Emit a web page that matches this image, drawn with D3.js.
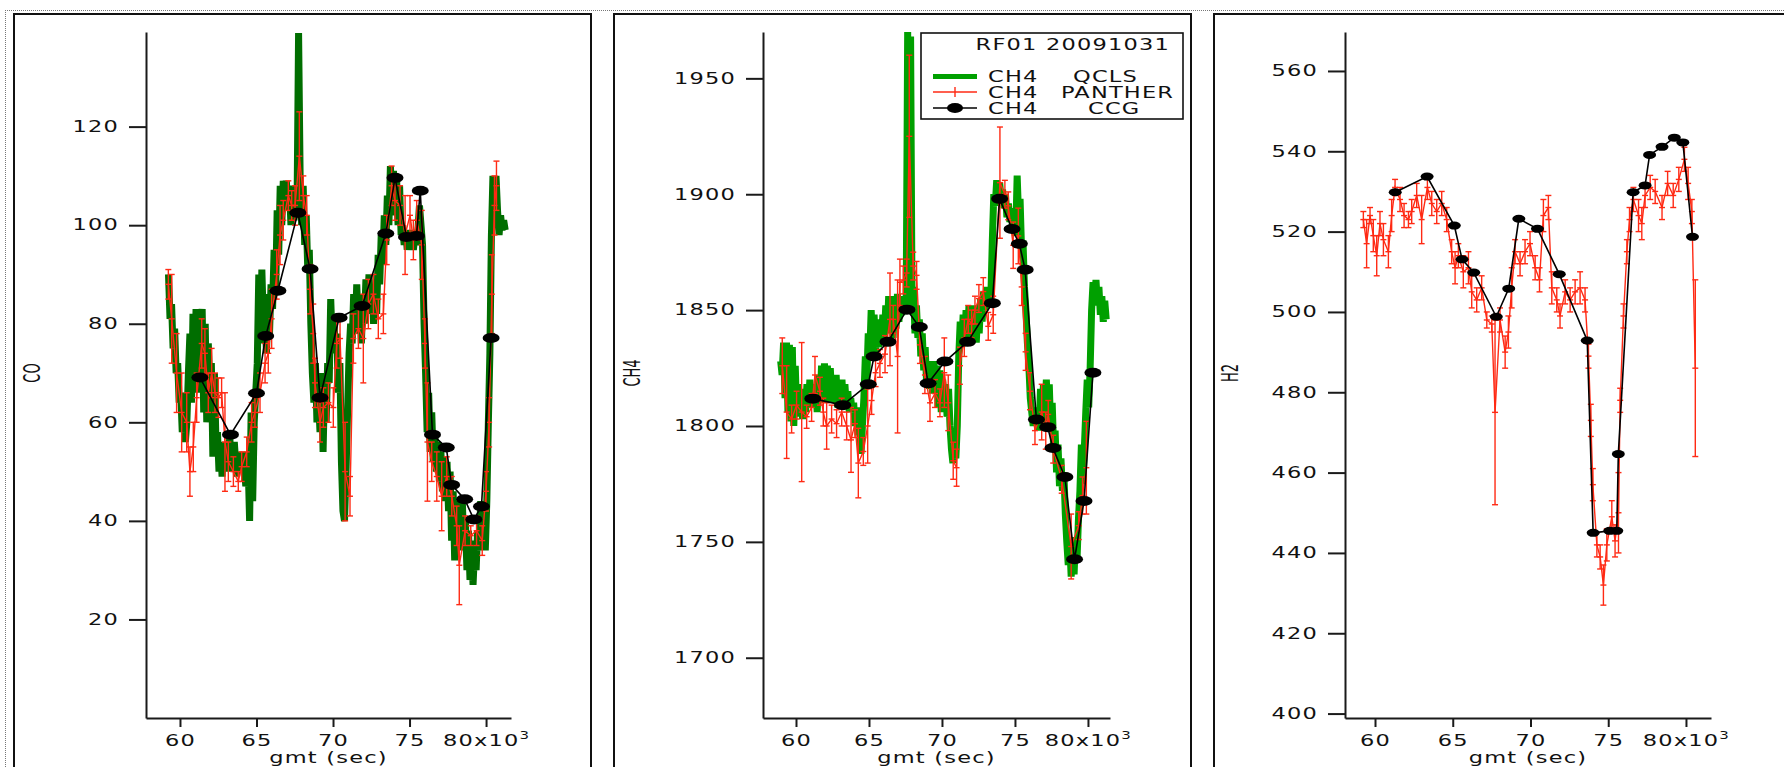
<!DOCTYPE html>
<meta charset="utf-8">
<style>
  body { margin: 0; background: #fff; }
  svg text { font-family: "DejaVu Sans", sans-serif; font-size: 15px; fill: #111; letter-spacing: 0.8px; }
  svg text.name { font-size: 13px; letter-spacing: 0; }
</style>
<script src="https://d3js.org/d3.v7.min.js"></script>
<div id="chart"></div>
<script>

// ---- data (time in thousands of seconds gmt) ----
var xTicks = [60, 65, 70, 75, 80];
var coTicks = [20, 40, 60, 80, 100, 120];
var ch4Ticks = [1700, 1750, 1800, 1850, 1900, 1950];
var h2Ticks = [400, 420, 440, 460, 480, 500, 520, 540, 560];

var legendTitle = "RF01 20091031";
var legendSpecies = ["CH4", "CH4", "CH4"];
var legendSources = ["QCLS", "PANTHER", "CCG"];

// QCLS CO [t, ppb]
var coQcls = [
[59.25,90],[59.35,81],[59.45,84],[59.55,75],[59.65,79],[59.75,70],[59.85,72],[59.95,64],[60.05,66],[60.15,58],[60.25,62],[60.35,56],[60.45,60],[60.55,70],[60.65,78],[60.75,64],[60.85,82],[60.95,70],[61.05,83],[61.15,66],[61.25,82],[61.35,72],[61.45,83],[61.55,62],[61.65,80],[61.75,60],[61.85,76],[61.95,68],[62.05,72],[62.15,53],[62.25,70],[62.35,56],[62.45,58],[62.55,50],[62.65,56],[62.75,49],[62.85,55],[62.95,50],[63.05,56],[63.15,52],[63.25,57],[63.4,50],[63.55,56],[63.7,49],[63.85,54],[64.0,50],[64.15,54],[64.3,47],[64.45,52],[64.55,40],[64.65,62],[64.75,44],[64.85,60],[64.95,66],[65.05,72],[65.15,90],[65.25,76],[65.35,91],[65.45,80],[65.55,86],[65.65,74],[65.75,84],[65.85,78],[65.95,88],[66.05,83],[66.15,95],[66.25,86],[66.35,103],[66.45,94],[66.55,108],[66.65,100],[66.75,109],[66.85,104],[66.95,109],[67.05,103],[67.15,108],[67.25,100],[67.35,106],[67.45,101],[67.55,108],[67.65,104],[67.75,139],[67.85,110],[67.95,100],[68.05,108],[68.15,96],[68.25,102],[68.35,91],[68.45,95],[68.55,80],[68.65,70],[68.75,64],[68.85,72],[68.95,60],[69.05,65],[69.15,58],[69.25,70],[69.35,54],[69.45,68],[69.55,60],[69.65,72],[69.75,68],[69.85,85],[69.95,76],[70.05,82],[70.15,74],[70.25,78],[70.35,66],[70.45,72],[70.55,52],[70.65,42],[70.75,40],[70.85,50],[70.95,62],[71.05,74],[71.15,80],[71.25,76],[71.35,86],[71.45,78],[71.55,88],[71.65,80],[71.75,86],[71.85,76],[71.95,84],[72.05,80],[72.15,89],[72.25,82],[72.35,90],[72.45,84],[72.55,88],[72.65,80],[72.75,86],[72.85,82],[72.95,94],[73.05,88],[73.15,98],[73.25,92],[73.35,102],[73.45,96],[73.55,106],[73.65,100],[73.75,112],[73.85,104],[73.95,111],[74.05,102],[74.15,110],[74.25,100],[74.35,108],[74.45,98],[74.55,100],[74.65,96],[74.75,99],[74.85,95],[74.95,98],[75.05,96],[75.15,99],[75.25,95],[75.35,98],[75.45,96],[75.55,99],[75.65,104],[75.75,100],[75.85,96],[75.95,80],[76.05,70],[76.15,58],[76.25,66],[76.35,54],[76.45,62],[76.55,52],[76.65,58],[76.75,50],[76.85,56],[76.95,48],[77.05,54],[77.15,46],[77.25,53],[77.35,44],[77.45,52],[77.55,42],[77.65,50],[77.75,36],[77.85,46],[77.95,32],[78.05,44],[78.15,34],[78.25,42],[78.35,38],[78.45,44],[78.55,34],[78.65,40],[78.75,30],[78.85,38],[78.95,28],[79.05,36],[79.15,27],[79.25,34],[79.35,30],[79.45,38],[79.55,34],[79.65,44],[79.75,35],[79.85,43],[79.95,34],[80.05,44],[80.15,60],[80.25,74],[80.35,98],[80.45,110],[80.55,104],[80.65,110],[80.75,103],[80.85,98],[80.95,102],[81.05,99],[81.15,101],[81.25,99]
];

// QCLS CH4 [t, ppb]
var ch4Qcls = [
[58.95,1828],[59.05,1822],[59.15,1836],[59.25,1812],[59.35,1836],[59.45,1806],[59.55,1835],[59.65,1802],[59.75,1834],[59.85,1800],[59.95,1826],[60.05,1804],[60.15,1818],[60.25,1806],[60.35,1815],[60.45,1803],[60.55,1816],[60.65,1806],[60.75,1818],[60.85,1808],[60.95,1820],[61.05,1810],[61.15,1818],[61.25,1808],[61.35,1818],[61.45,1806],[61.55,1822],[61.65,1810],[61.75,1826],[61.85,1810],[61.95,1827],[62.05,1812],[62.15,1826],[62.25,1810],[62.35,1825],[62.45,1812],[62.55,1822],[62.65,1810],[62.75,1822],[62.85,1808],[62.95,1820],[63.05,1810],[63.15,1820],[63.25,1808],[63.35,1818],[63.45,1808],[63.55,1815],[63.65,1806],[63.75,1812],[63.85,1806],[63.95,1810],[64.05,1800],[64.15,1808],[64.25,1796],[64.35,1806],[64.45,1788],[64.55,1800],[64.65,1812],[64.75,1830],[64.85,1820],[64.95,1840],[65.05,1830],[65.15,1850],[65.25,1836],[65.35,1848],[65.45,1832],[65.55,1845],[65.65,1834],[65.75,1846],[65.85,1836],[65.95,1848],[66.05,1838],[66.15,1852],[66.25,1840],[66.35,1856],[66.45,1840],[66.55,1854],[66.65,1838],[66.75,1856],[66.85,1842],[66.95,1857],[67.05,1845],[67.15,1856],[67.25,1848],[67.35,1852],[67.45,1849],[67.55,1855],[67.65,1970],[67.75,1900],[67.85,1968],[67.95,1852],[68.05,1860],[68.15,1840],[68.25,1852],[68.35,1838],[68.45,1846],[68.55,1830],[68.65,1840],[68.75,1824],[68.85,1834],[68.95,1818],[69.05,1828],[69.15,1816],[69.25,1826],[69.35,1814],[69.45,1828],[69.55,1816],[69.65,1826],[69.75,1808],[69.85,1824],[69.95,1806],[70.05,1820],[70.15,1808],[70.25,1818],[70.35,1804],[70.45,1816],[70.55,1800],[70.65,1790],[70.75,1784],[70.85,1796],[70.95,1786],[71.05,1800],[71.15,1830],[71.25,1845],[71.35,1834],[71.45,1848],[71.55,1836],[71.65,1850],[71.75,1838],[71.85,1852],[71.95,1836],[72.05,1850],[72.15,1838],[72.25,1852],[72.35,1836],[72.45,1850],[72.55,1840],[72.65,1855],[72.75,1845],[72.85,1858],[72.95,1850],[73.05,1860],[73.15,1852],[73.25,1860],[73.35,1856],[73.45,1880],[73.55,1900],[73.65,1895],[73.75,1906],[73.85,1896],[73.95,1905],[74.05,1898],[74.15,1902],[74.25,1894],[74.35,1900],[74.45,1890],[74.55,1896],[74.65,1888],[74.75,1894],[74.85,1884],[74.95,1890],[75.05,1882],[75.15,1908],[75.25,1890],[75.35,1898],[75.45,1876],[75.55,1880],[75.65,1860],[75.75,1850],[75.85,1836],[75.95,1826],[76.05,1812],[76.15,1806],[76.25,1800],[76.35,1806],[76.45,1800],[76.55,1808],[76.65,1798],[76.75,1816],[76.85,1800],[76.95,1818],[77.05,1804],[77.15,1820],[77.25,1802],[77.35,1818],[77.45,1798],[77.55,1810],[77.65,1790],[77.75,1798],[77.85,1780],[77.95,1792],[78.05,1774],[78.15,1786],[78.25,1772],[78.35,1780],[78.45,1762],[78.55,1750],[78.65,1740],[78.75,1750],[78.85,1735],[78.95,1748],[79.05,1736],[79.15,1752],[79.25,1742],[79.35,1760],[79.45,1772],[79.55,1792],[79.65,1775],[79.75,1790],[79.85,1806],[79.95,1820],[80.05,1808],[80.15,1825],[80.25,1850],[80.35,1862],[80.45,1855],[80.55,1863],[80.65,1852],[80.75,1860],[80.85,1848],[80.95,1856],[81.05,1845],[81.15,1854],[81.25,1846]
];

// PANTHER [t, value, error]
var coPanther = [
[59.24,88,3],[59.46,81,9],[59.78,70,8],[60.11,62,8],[60.44,60,6],[60.65,50,5],[60.87,55,5],[61.09,65,5],[61.42,76,5],[61.63,74,5],[61.85,66,4],[62.07,70,5],[62.29,66,4],[62.51,65,4],[62.72,66,3],[62.94,56,10],[63.16,52,4],[63.49,50,3],[63.81,48,2],[64.03,51,3],[64.36,54,3],[64.68,60,4],[64.9,62,3],[65.23,66,4],[65.56,72,4],[65.77,74,4],[65.99,81,6],[66.32,90,5],[66.54,98,6],[66.75,101,4],[67.08,106,3],[67.3,104,3],[67.52,104,4],[67.8,114,9],[68.06,106,4],[68.28,102,4],[68.5,87,5],[68.71,78,6],[68.82,68,5],[69.15,60,4],[69.37,63,4],[69.7,64,4],[70.02,63,4],[70.24,76,5],[70.46,77,4],[70.79,50,10],[71.11,45,4],[71.33,77,5],[71.66,79,4],[71.98,77,9],[72.31,84,5],[72.64,86,4],[72.96,81,4],[73.29,82,4],[73.51,97,5],[73.83,108,4],[74.05,105,4],[74.38,104,4],[74.71,98,8],[75.03,102,4],[75.25,97,4],[75.47,101,4],[75.8,96,7],[76.01,76,5],[76.17,56,12],[76.45,52,4],[76.78,49,5],[77.1,45,7],[77.43,49,4],[77.76,45,4],[78.08,39,4],[78.25,31,8],[78.63,38,3],[79.0,37,2],[79.38,38,3],[79.75,36,3],[80.0,46,4],[80.2,60,5],[80.38,86,8],[80.55,104,6],[80.68,108,5]
];
var ch4Panther = [
[59.06,1826,12],[59.36,1806,20],[59.7,1803,6],[60.04,1809,6],[60.39,1806,30],[60.73,1804,5],[61.07,1808,6],[61.3,1822,8],[61.64,1815,6],[61.87,1806,6],[62.1,1800,10],[62.44,1803,6],[62.78,1801,6],[63.13,1806,6],[63.47,1800,6],[63.77,1794,14],[64.04,1801,6],[64.27,1784,15],[64.61,1789,6],[64.91,1800,16],[65.18,1811,6],[65.45,1823,6],[65.75,1827,6],[66.1,1831,8],[66.44,1846,20],[66.66,1846,6],[66.96,1830,33],[67.12,1862,10],[67.35,1863,6],[67.58,1866,6],[67.76,1925,35],[68.03,1869,6],[68.26,1865,6],[68.49,1835,8],[68.83,1822,8],[69.18,1810,8],[69.52,1814,6],[69.86,1810,6],[70.16,1823,15],[70.43,1810,12],[70.77,1785,8],[71.0,1782,8],[71.23,1826,8],[71.53,1838,8],[71.8,1846,6],[72.03,1844,6],[72.26,1850,6],[72.53,1855,6],[72.83,1858,6],[73.17,1843,6],[73.51,1848,8],[73.97,1905,24],[74.31,1900,6],[74.54,1895,6],[74.88,1878,10],[75.23,1882,12],[75.46,1860,8],[75.73,1832,8],[76.03,1815,8],[76.37,1798,6],[76.83,1806,12],[77.11,1798,8],[77.28,1805,6],[77.62,1790,6],[78.2,1777,6],[78.85,1748,14],[79.37,1757,6],[79.63,1770,8],[79.89,1782,20]
];
var h2Panther = [
[59.25,523,2],[59.46,517,6],[59.68,524,2],[59.89,519,4],[60.11,514,5],[60.32,522,3],[60.54,518,4],[60.86,515,4],[61.07,524,4],[61.29,531,2],[61.61,528,3],[61.87,524,3],[62.15,523,2],[62.36,525,3],[62.68,529,3],[63.0,523,6],[63.37,531,3],[63.65,527,3],[63.97,525,3],[64.29,527,3],[64.61,523,3],[64.93,515,3],[65.15,511,4],[65.36,514,3],[65.68,510,4],[66.01,511,4],[66.22,505,4],[66.54,503,3],[66.86,506,3],[67.19,498,2],[67.51,497,2],[67.72,475,23],[68.04,498,3],[68.37,490,4],[68.58,495,4],[68.79,506,5],[69.01,515,3],[69.33,512,3],[69.65,515,3],[69.97,517,3],[70.3,511,3],[70.58,508,3],[70.83,524,4],[71.15,526,3],[71.37,506,4],[71.69,503,3],[71.9,499,3],[72.23,505,3],[72.55,503,3],[72.87,505,3],[73.19,506,4],[73.51,503,3],[73.73,489,3],[73.88,473,4],[74.01,457,4],[74.27,442,3],[74.48,439,3],[74.69,432,5],[74.91,442,4],[75.23,449,4],[75.44,443,4],[75.66,450,10],[75.77,478,3],[75.98,499,3],[76.2,515,3],[76.37,523,3],[76.62,528,3],[76.95,524,4],[77.16,522,4],[77.37,529,3],[77.7,531,3],[78.02,530,3],[78.46,526,3],[78.82,532,3],[79.18,529,3],[79.54,533,3],[79.9,538,3],[80.14,532,4],[80.38,525,3],[80.6,486,22]
];

// CCG flask samples [t, value]
var coCcg = [
[61.3,69.1],[63.3,57.5],[65.0,65.9],[65.6,77.5],[66.4,86.7],[67.7,102.5],[68.5,91.1],[69.15,65.0],[70.4,81.2],[71.9,83.6],[73.45,98.3],[74.05,109.6],[74.8,97.6],[75.45,97.8],[75.7,107.0],[76.5,57.5],[77.4,54.9],[77.75,47.3],[78.6,44.4],[79.2,40.3],[79.7,42.9],[80.33,77.1]
];
var ch4Ccg = [
[61.15,1811.8],[63.2,1809],[64.95,1818],[65.35,1830],[66.3,1836.3],[67.6,1850.2],[68.45,1842.7],[69.05,1818.4],[70.2,1827.8],[71.75,1836.3],[73.45,1853],[73.95,1898],[74.8,1885],[75.3,1878.6],[75.7,1867.4],[76.47,1802.8],[77.24,1799.5],[77.6,1790.5],[78.42,1778],[79.08,1742.5],[79.73,1767.6],[80.34,1823]
];
var h2Ccg = [
[61.3,529.8],[63.35,533.7],[65.1,521.5],[65.6,513.1],[66.35,509.8],[67.8,498.8],[68.6,505.8],[69.25,523.2],[70.45,520.7],[71.85,509.4],[73.65,492.9],[74.03,445],[75.1,445.5],[75.55,445.5],[75.65,464.6],[76.6,529.8],[77.37,531.5],[77.66,539.1],[78.46,541.1],[79.25,543.4],[79.8,542.2],[80.42,518.7]
];

// ---- layout ----
var W = 1784, H = 767;
var plotTop = 32, plotBottom = 718;
var red = "#ff2a14";
var sx = 1.5;   // the original graphics are stretched sideways

var panels = [
  {name: "CO",  frameX: 14,   axisX: [146, 511],  xDom: [57.78, 81.63], yDom: [0, 139.2],     ticks: coTicks,  qcls: coQcls,  green: "#006e00", panther: coPanther,  ccg: coCcg,  rx: 8.5, ry: 5, nameX: 31},
  {name: "CH4", frameX: 614,  axisX: [763, 1110], xDom: [57.74, 81.51], yDom: [1674, 1970],   ticks: ch4Ticks, qcls: ch4Qcls, green: "#00a000", panther: ch4Panther, ccg: ch4Ccg, rx: 8.5, ry: 5, nameX: 631},
  {name: "H2",  frameX: 1214, axisX: [1345, 1711],xDom: [58.07, 81.61], yDom: [398.9, 569.7], ticks: h2Ticks,  qcls: null,    green: null,      panther: h2Panther,  ccg: h2Ccg,  rx: 6.5, ry: 4, nameX: 1229}
];

var svg = d3.select("#chart").append("svg")
    .attr("width", W)
    .attr("height", H);

// dotted window border
svg.append("line").attr("x1", 5).attr("x2", W).attr("y1", 10.5).attr("y2", 10.5)
    .attr("stroke", "#777").attr("stroke-dasharray", "1,1");
svg.append("line").attr("x1", 5.5).attr("x2", 5.5).attr("y1", 10).attr("y2", H)
    .attr("stroke", "#777").attr("stroke-dasharray", "1,1");

panels.forEach(function(p) {
  var g = svg.append("g");

  // graph frame
  g.append("rect")
      .attr("x", p.frameX).attr("y", 14)
      .attr("width", 577).attr("height", 800)
      .attr("fill", "none").attr("stroke", "#111").attr("stroke-width", 2);

  var x = d3.scaleLinear().domain(p.xDom).range(p.axisX);
  var y = d3.scaleLinear().domain(p.yDom).range([plotBottom, plotTop]);

  // axes
  var ya = g.append("g")
      .attr("transform", "translate(" + p.axisX[0] + ",0)")
      .call(d3.axisLeft(y).tickValues(p.ticks).tickSize(17).tickSizeOuter(0).tickFormat(d3.format("d")));
  ya.selectAll("text")
      .attr("x", 0)
      .attr("transform", "translate(-27,0) scale(" + sx + ",1)");

  var xa = g.append("g")
      .attr("transform", "translate(0," + plotBottom + ")")
      .call(d3.axisBottom(x).tickValues(xTicks).tickSize(9).tickPadding(8).tickSizeOuter(0).tickFormat(d3.format("d")));
  xa.selectAll("text")
      .attr("transform", "scale(" + sx + ",1)");
  xa.selectAll("text").filter(function(d) { return d === 80; })
      .text("80x10")
    .append("tspan")
      .attr("font-size", "10px")
      .attr("dy", "-7")
      .text("3");

  [ya, xa].forEach(function(a) {
    a.attr("font-size", null).attr("font-family", null);
    a.selectAll(".domain, .tick line").attr("stroke", "#1a1a1a").attr("stroke-width", 2);
  });

  // axis titles
  g.append("text")
      .attr("text-anchor", "middle")
      .attr("transform", "translate(" + ((p.axisX[0] + p.axisX[1]) / 2) + ",763) scale(" + sx + ",1)")
      .text("gmt (sec)");
  g.append("text")
      .attr("class", "name")
      .attr("text-anchor", "middle")
      .attr("transform", "translate(" + (p.nameX + 9) + ",373) scale(1.8,1) rotate(-90)")
      .text(p.name);

  var line = d3.line().x(function(d) { return x(d[0]); }).y(function(d) { return y(d[1]); });

  // QCLS: heavy green trace
  if (p.qcls) {
    g.append("path")
        .datum(p.qcls)
        .attr("fill", "none")
        .attr("stroke", p.green)
        .attr("stroke-width", 7)
        .attr("d", line);
  }

  // PANTHER: red line with error bars
  g.append("path")
      .datum(p.panther)
      .attr("fill", "none")
      .attr("stroke", red)
      .attr("stroke-width", 1.4)
      .attr("d", line);

  var eb = g.append("g").attr("stroke", red).attr("stroke-width", 1.4)
    .selectAll("g").data(p.panther).enter().append("g");
  eb.append("line")
      .attr("x1", function(d) { return x(d[0]); }).attr("x2", function(d) { return x(d[0]); })
      .attr("y1", function(d) { return y(d[1] - d[2]); }).attr("y2", function(d) { return y(d[1] + d[2]); });
  [-1, 0, 1].forEach(function(k) {
    eb.append("line")
        .attr("x1", function(d) { return x(d[0]) - 3; }).attr("x2", function(d) { return x(d[0]) + 3; })
        .attr("y1", function(d) { return y(d[1] + k * d[2]); }).attr("y2", function(d) { return y(d[1] + k * d[2]); });
  });

  // CCG: black markers joined by a thin line
  g.append("path")
      .datum(p.ccg)
      .attr("fill", "none")
      .attr("stroke", "#000")
      .attr("stroke-width", 1.6)
      .attr("d", line);
  g.selectAll(".ccg").data(p.ccg).enter().append("ellipse")
      .attr("class", "ccg")
      .attr("cx", function(d) { return x(d[0]); })
      .attr("cy", function(d) { return y(d[1]); })
      .attr("rx", p.rx).attr("ry", p.ry)
      .attr("fill", "#000");
});

// legend in the CH4 graph
var lg = svg.append("g");
lg.append("rect")
    .attr("x", 921).attr("y", 33).attr("width", 262).attr("height", 86)
    .attr("fill", "#fff").attr("stroke", "#111").attr("stroke-width", 1.6);
lg.append("text")
    .attr("text-anchor", "end")
    .attr("transform", "translate(1170,50) scale(" + sx + ",1)")
    .text(legendTitle);

var rowY = [76.5, 92, 108];
var srcX = [1073, 1061, 1088];
legendSources.forEach(function(s, i) {
  var yy = rowY[i];
  if (i === 0) {
    lg.append("line").attr("x1", 933).attr("x2", 977).attr("y1", yy).attr("y2", yy)
        .attr("stroke", "#00a000").attr("stroke-width", 5);
  } else if (i === 1) {
    lg.append("line").attr("x1", 933).attr("x2", 977).attr("y1", yy).attr("y2", yy)
        .attr("stroke", red).attr("stroke-width", 1.4);
    lg.append("line").attr("x1", 955).attr("x2", 955).attr("y1", yy - 5).attr("y2", yy + 5)
        .attr("stroke", red).attr("stroke-width", 1.4);
  } else {
    lg.append("line").attr("x1", 933).attr("x2", 977).attr("y1", yy).attr("y2", yy)
        .attr("stroke", "#000").attr("stroke-width", 1.6);
    lg.append("ellipse").attr("cx", 955).attr("cy", yy).attr("rx", 8).attr("ry", 5).attr("fill", "#000");
  }
  lg.append("text")
      .attr("transform", "translate(988," + (yy + 5.5) + ") scale(" + sx + ",1)")
      .text(legendSpecies[i]);
  lg.append("text")
      .attr("transform", "translate(" + srcX[i] + "," + (yy + 5.5) + ") scale(" + sx + ",1)")
      .text(s);
});

</script>
